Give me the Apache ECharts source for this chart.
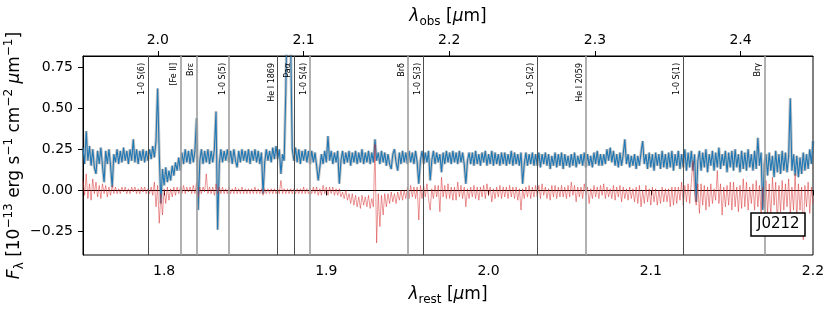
<!DOCTYPE html>
<html><head><meta charset="utf-8">
<script src="https://cdn.jsdelivr.net/npm/echarts@6/dist/echarts.min.js"></script>
<style>html,body{margin:0;padding:0;background:#fff}#c{width:830px;height:312px}</style>
</head><body><div id="c"></div>
<script>
// ---- data ----
const waveStart = 1.75;      // rest wavelength of first sample [um]
const waveStep = 0.001;      // sampling step [um]
const flux = [
0.26,0.16,0.36,0.18,0.27,0.15,0.25,0.14,0.10,0.24,0.16,0.26,0.15,0.05,0.24,0.16,0.25,0.15,0.02,0.22,
0.17,0.25,0.16,0.24,0.17,0.26,0.18,0.24,0.16,0.25,0.18,0.31,0.17,0.25,0.16,0.24,0.18,0.25,0.17,0.24,
0.18,0.25,0.19,0.27,0.20,0.30,0.62,0.22,-0.08,0.13,0.03,0.14,0.05,0.12,0.06,0.15,0.09,0.17,0.12,0.20,
0.12,0.23,0.16,0.25,0.17,0.24,0.16,0.25,0.17,0.24,0.44,-0.12,0.18,0.25,0.16,0.24,0.17,0.25,0.16,0.24,
0.17,0.25,0.48,-0.24,0.16,0.25,0.17,0.24,0.18,0.25,0.17,0.24,0.16,0.25,0.18,0.14,0.24,0.17,0.25,0.18,
0.24,0.17,0.25,0.16,0.24,0.18,0.25,0.17,0.24,0.16,0.23,-0.02,0.17,0.25,0.18,0.24,0.17,0.26,0.19,0.27,
0.19,0.25,0.10,0.22,0.18,0.60,1.20,1.20,0.90,0.25,0.18,0.26,0.17,0.25,0.16,0.24,0.18,0.25,0.17,0.24,
0.16,0.24,0.17,0.23,0.15,0.06,0.14,0.22,0.16,0.24,0.17,0.33,0.18,0.24,0.16,0.23,0.17,0.24,0.04,0.18,
0.24,0.16,0.23,0.17,0.24,0.15,0.23,0.17,0.24,0.16,0.23,0.17,0.25,0.16,0.23,0.17,0.24,0.16,0.23,0.17,
0.31,0.18,0.23,0.16,0.24,0.17,0.23,0.15,0.22,0.16,0.13,0.22,0.25,0.17,0.12,0.23,0.16,0.24,0.17,0.23,
0.16,0.24,0.17,0.23,0.16,0.24,0.17,0.04,0.18,0.24,0.16,0.23,0.17,0.24,0.06,0.18,0.24,0.16,0.23,0.17,
0.22,0.11,0.23,0.16,0.24,0.17,0.23,0.16,0.24,0.17,0.23,0.16,0.24,0.17,0.23,0.16,0.04,0.18,0.23,0.16,
0.23,0.15,0.24,0.16,0.22,0.15,0.23,0.17,0.24,0.15,0.22,0.16,0.24,0.15,0.23,0.16,0.22,0.15,0.23,0.16,
0.23,0.15,0.22,0.16,0.24,0.15,0.23,0.16,0.22,0.15,0.23,0.04,0.16,0.23,0.15,0.22,0.16,0.23,0.15,0.22,
0.15,0.23,0.14,0.22,0.16,0.23,0.15,0.22,0.13,0.21,0.15,0.23,0.14,0.22,0.15,0.23,0.13,0.22,0.15,0.21,
0.14,0.22,0.15,0.23,0.14,0.21,0.16,0.22,0.15,0.23,0.14,0.22,0.15,0.21,0.14,0.23,0.16,0.24,0.15,0.22,
0.15,0.22,0.16,0.25,0.18,0.26,0.17,0.24,0.15,0.22,0.14,0.23,0.15,0.22,0.31,0.16,0.22,0.14,0.21,0.15,
0.22,0.13,0.21,0.15,0.23,0.30,0.16,0.22,0.13,0.23,0.14,0.22,0.12,0.23,0.15,0.22,0.13,0.24,0.14,0.22,
0.13,0.23,0.14,0.24,0.12,0.22,0.15,0.24,0.13,0.22,0.14,0.25,0.12,0.23,0.14,0.24,0.12,0.22,-0.07,0.18,
0.24,0.12,0.23,0.14,0.25,0.11,0.22,0.15,0.24,0.12,0.23,0.14,0.26,0.13,0.22,0.15,0.24,0.11,0.23,0.14,
0.24,0.12,0.25,0.14,0.22,0.11,0.24,0.13,0.23,0.12,0.25,0.14,0.22,0.12,0.24,0.13,0.32,0.15,0.23,-0.12,
0.16,0.22,0.09,0.23,0.12,0.21,0.08,0.24,0.11,0.22,0.10,0.24,0.12,0.23,0.11,0.21,0.56,0.12,0.22,0.09,
0.21,0.08,0.20,0.10,0.23,0.12,0.22,0.13,0.25,0.16,0.30
];
const residual = [
0.06,-0.03,0.10,-0.05,0.04,-0.06,0.07,-0.02,0.05,-0.04,0.03,-0.05,0.04,-0.02,0.03,-0.04,0.02,-0.03,0.03,-0.02,
0.02,-0.02,0.01,-0.02,0.02,-0.01,0.02,-0.02,0.01,-0.02,0.02,-0.01,0.02,-0.02,0.01,-0.02,0.02,-0.01,0.02,-0.02,
0.01,-0.02,0.02,-0.03,0.05,-0.10,0.03,-0.20,-0.02,-0.15,0.01,-0.08,0.02,-0.06,0.01,-0.04,0.02,-0.03,0.02,-0.02,
0.02,-0.02,0.03,-0.02,0.02,-0.01,0.02,-0.02,0.03,-0.02,0.05,-0.04,0.02,-0.02,0.02,-0.01,0.10,-0.02,0.02,-0.02,
0.02,-0.03,0.04,-0.02,0.02,-0.02,0.02,-0.02,0.01,-0.02,0.02,-0.02,0.01,-0.02,0.02,-0.02,0.01,-0.02,0.02,-0.02,
0.01,-0.02,0.01,-0.02,0.01,-0.02,0.02,-0.02,0.01,-0.02,0.01,-0.03,0.01,-0.02,0.01,-0.02,0.01,-0.02,0.01,-0.02,
0.01,-0.02,0.06,-0.02,0.01,-0.02,0.01,-0.02,0.01,-0.02,0.01,-0.02,0.01,-0.02,0.01,-0.02,0.02,-0.02,0.01,-0.02,
0.01,-0.02,0.02,-0.02,0.02,-0.03,0.01,-0.03,0.03,-0.02,0.02,-0.03,0.02,-0.02,0.02,-0.03,0.01,-0.03,0.01,-0.04,
-0.01,-0.05,0.00,-0.06,-0.02,-0.08,-0.02,-0.09,-0.03,-0.10,-0.04,-0.11,-0.03,-0.09,-0.04,-0.10,-0.03,-0.11,-0.05,-0.10,
0.28,-0.32,-0.02,-0.22,-0.03,-0.15,-0.02,-0.10,-0.02,-0.08,-0.01,-0.07,-0.02,-0.08,-0.01,-0.06,0.00,-0.06,0.00,-0.05,
0.02,-0.05,0.03,-0.04,0.02,-0.05,0.02,-0.18,0.03,-0.05,0.03,-0.04,0.04,-0.05,-0.12,0.01,-0.05,0.03,-0.04,0.03,
-0.13,0.08,-0.04,0.03,-0.05,0.04,-0.05,0.02,-0.06,0.02,-0.06,0.05,-0.04,0.03,-0.05,0.02,-0.10,0.01,-0.05,0.02,
-0.04,0.03,-0.05,0.02,-0.06,0.02,-0.04,0.03,-0.05,0.04,-0.03,0.02,-0.07,0.01,-0.05,0.02,-0.04,0.03,-0.05,0.02,
-0.04,0.02,-0.05,0.03,-0.04,0.02,-0.05,0.02,-0.06,0.01,-0.12,0.01,-0.05,0.02,-0.04,0.03,-0.05,0.02,-0.04,0.03,
-0.04,0.03,-0.05,0.04,-0.03,0.02,-0.05,0.01,-0.06,0.03,-0.04,0.03,-0.05,0.02,-0.04,0.03,-0.04,0.02,-0.05,0.03,
-0.04,0.05,-0.03,0.03,-0.07,0.02,-0.04,0.02,-0.05,0.04,-0.03,0.02,-0.08,0.01,-0.05,0.03,-0.04,0.02,-0.05,0.03,
-0.03,0.04,-0.05,0.02,-0.04,0.01,-0.05,0.03,-0.06,0.02,-0.04,0.03,-0.07,0.02,-0.05,0.01,-0.06,0.02,-0.05,0.01,
-0.07,0.02,-0.08,0.03,-0.10,0.00,-0.08,0.03,-0.07,0.01,-0.09,0.02,-0.07,0.01,-0.09,0.00,-0.08,0.02,-0.07,0.01,
-0.07,0.01,-0.10,0.02,-0.09,0.02,-0.08,0.02,-0.06,0.05,-0.09,0.03,-0.07,0.04,-0.08,0.05,0.18,-0.02,-0.09,0.04,
-0.14,0.04,-0.09,0.03,-0.12,0.02,-0.10,0.04,-0.08,0.01,-0.06,0.12,-0.08,0.04,-0.15,0.02,-0.10,0.03,-0.09,0.05,
-0.12,0.05,-0.10,0.02,-0.13,0.03,-0.11,0.07,-0.10,0.05,-0.12,0.02,-0.08,0.04,-0.12,0.06,-0.10,0.03,-0.14,0.02,
-0.11,0.06,-0.14,0.04,-0.17,0.08,-0.09,0.05,-0.20,0.03,-0.13,0.06,-0.12,0.04,-0.10,0.07,-0.14,0.02,-0.12,0.10,
-0.18,0.04,-0.12,0.02,-0.30,0.03,-0.10,0.05,-0.14,0.02,-0.08
];
const lineNames = ['1-0 S(6)','[Fe II]','Brε','1-0 S(5)','He I 1869','Paα','1-0 S(4)','Brδ','1-0 S(3)','1-0 S(2)','He I 2059','1-0 S(1)','Brγ'];
const lineWaves = [1.7880,1.8100,1.8179,1.8358,1.8690,1.8756,1.8920,1.9451,1.9576,2.0338,2.0587,2.1218,2.1661];
const lineKind  = ['a','b','b','b','a','a','b','b','a','a','b','a','b'];
const redshift = 0.1135;
const restRange = [1.75, 2.2];
const fluxRange = [-0.393, 0.817];
const restTicks = [1.8, 1.9, 2.0, 2.1, 2.2];
const obsTicks = [2.0, 2.1, 2.2, 2.3, 2.4];
const fluxTicks = [-0.25, 0, 0.25, 0.5, 0.75];
const objectName = 'J0212';

// ---- chart ----
const FONT = 'DejaVu Sans';
const kindStyle = {
  a: {color: '#4d4d4d', width: 1, type: 'solid'},
  b: {color: '#9e9e9e', width: 1.6, type: 'solid'}
};
const fluxPts = flux.map((v, i) => [+(waveStart + i * waveStep).toFixed(4), v]);
const residPts = residual.map((v, i) => [+(waveStart + i * waveStep).toFixed(4), v]);
const minus = s => String(s).replace('-', '\u2212');
const TFS = 17, SFS = 12;
const supStyle = {fontSize: SFS, fontFamily: FONT, verticalAlign: 'top', lineHeight: 12, color: '#000'};
const subStyle = {fontSize: SFS, fontFamily: FONT, verticalAlign: 'bottom', lineHeight: 12, color: '#000'};
const itStyle = {fontSize: TFS, fontFamily: FONT, fontStyle: 'italic', lineHeight: 23, color: '#000'};
const nameStyle = (rich) => ({fontSize: TFS, fontFamily: FONT, color: '#000', lineHeight: 23, rich});

const chart = echarts.init(document.getElementById('c'), null, {renderer: 'canvas'});
chart.setOption({
  animation: false,
  backgroundColor: '#fff',
  title: {
    text: objectName, left: 751, top: 213, padding: [4, 6],
    borderColor: '#000', borderWidth: 1.5, backgroundColor: '#fff',
    textStyle: {fontSize: 15, fontWeight: 'normal', fontFamily: FONT, color: '#000'}
  },
  grid: {left: 83, right: 17, top: 56, bottom: 57, outerBoundsMode: 'none', containLabel: false,
         show: true, borderColor: '#000', borderWidth: 1, backgroundColor: 'transparent'},
  xAxis: [{
    type: 'value', position: 'bottom', min: restRange[0], max: restRange[1],
    name: '{i|λ}{s|rest} [{i|μ}m]', nameLocation: 'middle', nameGap: 27,
    nameTextStyle: nameStyle({i: itStyle, s: subStyle}),
    axisLine: {lineStyle: {color: '#000', width: 1}},
    axisTick: {show: true, length: 5, customValues: restTicks, lineStyle: {color: '#000'}},
    axisLabel: {customValues: restTicks, margin: 9, fontSize: 14, fontFamily: FONT, color: '#000', formatter: v => v.toFixed(1)},
    splitLine: {show: false}
  }, {
    type: 'value', position: 'top', min: restRange[0] * (1 + redshift), max: restRange[1] * (1 + redshift),
    name: '{i|λ}{s|obs} [{i|μ}m]', nameLocation: 'middle', nameGap: 27,
    nameTextStyle: nameStyle({i: itStyle, s: subStyle}),
    axisLine: {lineStyle: {color: '#000', width: 1}},
    axisTick: {show: true, length: 5, customValues: obsTicks, lineStyle: {color: '#000'}},
    axisLabel: {customValues: obsTicks, margin: 9, fontSize: 14, fontFamily: FONT, color: '#000', formatter: v => v.toFixed(1)},
    splitLine: {show: false}
  }],
  yAxis: {
    type: 'value', min: fluxRange[0], max: fluxRange[1],
    name: '{i|F}{s|λ} [10{p|\u221213} erg s{p|\u22121} cm{p|\u22122} {i|μ}m{p|\u22121}]',
    nameLocation: 'middle', nameGap: 57, nameMoveOverlap: false,
    nameTextStyle: nameStyle({i: itStyle, s: subStyle, p: supStyle}),
    axisLine: {show: true, lineStyle: {color: '#000', width: 1}},
    axisTick: {show: true, length: 5, customValues: fluxTicks, lineStyle: {color: '#000'}},
    axisLabel: {customValues: fluxTicks, margin: 10, fontSize: 14, fontFamily: FONT, color: '#000', formatter: v => minus(v.toFixed(2))},
    splitLine: {show: false}
  },
  series: [{
    name: 'lines', type: 'line', data: [], z: 1, silent: true,
    markLine: {
      silent: true, symbol: 'none', animation: false,
      data: lineWaves.map((w, i) => ({
        xAxis: w,
        lineStyle: kindStyle[lineKind[i]],
        label: {show: true, formatter: lineNames[i], position: 'insideEndTop', distance: [7, 2],
                fontSize: 8, fontFamily: FONT, color: '#000'}
      }))
    }
  }, {
    name: 'fluxErr', type: 'line', data: fluxPts, z: 2, symbol: 'none', silent: true,
    lineStyle: {color: 'rgba(60,60,60,0.3)', width: 3}
  }, {
    name: 'flux', type: 'line', data: fluxPts, z: 3, symbol: 'none', silent: true,
    lineStyle: {color: '#1f77b4', width: 1.1}
  }, {
    name: 'residual', type: 'line', data: residPts, z: 4, symbol: 'none', silent: true,
    lineStyle: {color: 'rgba(214,39,40,0.7)', width: 0.7}
  }]
});
</script>
</body></html>
